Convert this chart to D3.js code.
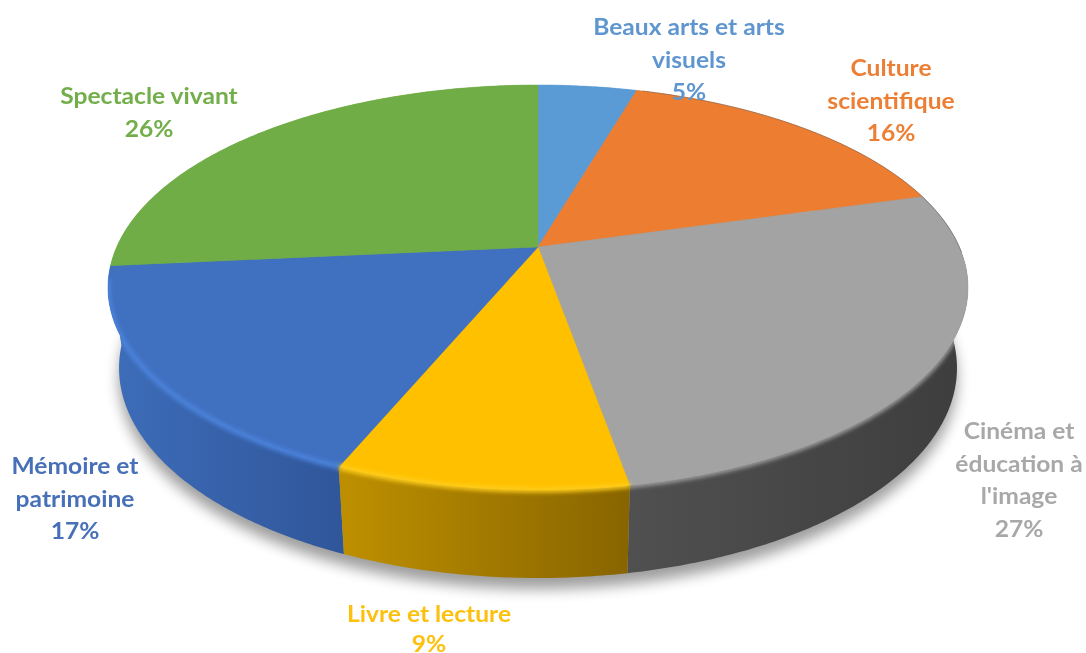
<!DOCTYPE html>
<html><head><meta charset="utf-8">
<script src="https://cdn.jsdelivr.net/npm/d3@7"></script>
<style>html,body{margin:0;background:#fff}svg{display:block}text{font-family:Lato,"Open Sans",sans-serif;font-weight:700;font-size:23px;text-anchor:middle}</style>
</head><body><svg id="c" width="1086" height="653"></svg>
<script>
const categories = ["Beaux arts et arts visuels","Culture scientifique","Cinéma et éducation à l'image","Livre et lecture","Mémoire et patrimoine","Spectacle vivant"];
const values = [4.5,16.1,26.6,9.1,17.2,26.5];
const percentLabels = ["5%","16%","27%","9%","17%","26%"];
const labelLines = [["Beaux arts et arts","visuels"],["Culture","scientifique"],["Cinéma et","éducation à","l'image"],["Livre et lecture"],["Mémoire et","patrimoine"],["Spectacle vivant"]];
const colors = ["#5b9bd5","#ed7d31","#a3a3a3","#ffc000","#4070c0","#70ad47"];
const textColors = ["#5f96cf","#ed7f36","#a8a8a8","#fcc010","#4670b8","#72ae4a"];
const rimColors = ["#5b9bd5","#ed7d31","#a3a3a3","#ffce1a","#4b84de","#70ad47"];
const wallStops = [["#5b9bd5","#5b9bd5"],["#ed7d31","#ed7d31"],["#505050","#3e3e3e"],["#bd8f00","#886500"],["#3d6cb8","#30569a"],["#70ad47","#70ad47"]];
const labelPos = [[689,28],[891,69],[1019,432],[429,615],[75,467],[149,97]];
const lineStep = 32.6;
const labelStretch = 1.07;

const svg = d3.select("#c");
const defs = svg.append("defs");
const blur = (id,s)=>defs.append("filter").attr("id",id).attr("filterUnits","userSpaceOnUse").attr("x",0).attr("y",0).attr("width",1086).attr("height",653)
  .append("feGaussianBlur").attr("stdDeviation",s);
blur("shadow",7); blur("rim",2); blur("txt",0.45);

// perspective projection of the pie disc onto the page
const k = -0.2;
const top_ = {x0:538,y0:247,a:194.4,b:421.3};
const bot_ = {x0:538,y0:326,a:201.6,b:410.5};
const project = (p,t)=>{const X=Math.sin(t),Y=-Math.cos(t),d=1+k*Y;return [p.x0+p.b*X/d,p.y0+p.a*Y/d];};
const line = d3.line();
const arcPts = (p,t0,t1)=>d3.range(0,1.0001,1/Math.max(2,Math.ceil((t1-t0)/0.01))).map(f=>project(p,t0+(t1-t0)*f));

const arcs = d3.pie().sort(null).value(d=>d).startAngle(0).endAngle(2*Math.PI)(values);
const wallPath = i=>{const a=arcs[i];return line(arcPts(top_,a.startAngle,a.endAngle).concat(arcPts(bot_,a.startAngle,a.endAngle).reverse()))+"Z";};

// clip for bevel: disc plus walls
const clip=defs.append("clipPath").attr("id","body");
clip.append("path").attr("d",line(arcPts(top_,0,2*Math.PI))+"Z");
arcs.forEach((a,i)=>clip.append("path").attr("d",wallPath(i)));

// ground shadow
svg.append("path").attr("d",line(arcPts(bot_,0,2*Math.PI))+"Z").attr("transform","translate(0,11)")
  .attr("fill","#000").attr("opacity",.38).attr("filter","url(#shadow)");

// side walls
arcs.forEach((a,i)=>{
  const grad=defs.append("linearGradient").attr("id","w"+i).attr("gradientUnits","userSpaceOnUse");
  const xs=d3.extent(arcPts(bot_,a.startAngle,a.endAngle),d=>d[0]);
  grad.attr("x1",xs[0]).attr("x2",xs[1]).attr("y1",0).attr("y2",0);
  grad.append("stop").attr("offset",0).attr("stop-color",wallStops[i][0]);
  grad.append("stop").attr("offset",1).attr("stop-color",wallStops[i][1]);
});
const wallOrder=[0,1,5,2,4,3];
svg.append("g").selectAll("path").data(wallOrder).join("path")
  .attr("d",wallPath).attr("fill",i=>`url(#w${i})`);

// top faces
svg.append("g").selectAll("path").data(arcs).join("path")
  .attr("d",a=>line([[top_.x0,top_.y0]].concat(arcPts(top_,a.startAngle,a.endAngle)))+"Z")
  .attr("fill",(a,i)=>colors[i]).attr("stroke",(a,i)=>colors[i]).attr("stroke-width",.5);

// bevel along the visible rim
const front=[2,3,4];
svg.append("g").attr("clip-path","url(#body)").append("g").selectAll("path").data(front).join("path")
  .attr("d",i=>line(arcPts(top_,Math.max(arcs[i].startAngle,1.65),Math.min(arcs[i].endAngle,4.55))))
  .attr("fill","none").attr("stroke",i=>rimColors[i]).attr("stroke-width",5).attr("filter","url(#rim)");

// thin dark back edge
svg.append("path").attr("d",line(arcPts(top_,0.3,1.6))).attr("fill","none").attr("stroke","#7a6a60").attr("stroke-width",1).attr("opacity",.6);

// labels
const labels=svg.append("g").attr("filter","url(#txt)");
categories.forEach((c,i)=>{
  const cx=labelPos[i][0];
  const t=labels.append("text").attr("fill",textColors[i]).attr("transform",`translate(${cx},0) scale(${labelStretch},1)`);
  labelLines[i].concat([percentLabels[i]]).forEach((s,j)=>{
    t.append("tspan").attr("x",0).attr("y",labelPos[i][1]+7+j*(i===3?30:lineStep)).text(s);
  });
});
</script></body></html>
